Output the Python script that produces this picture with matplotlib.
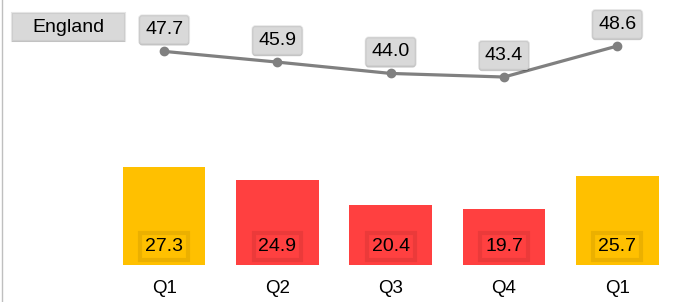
import matplotlib
matplotlib.use("Agg")
import matplotlib.pyplot as plt
import matplotlib.patheffects as pe
from matplotlib.patches import Rectangle
from matplotlib.lines import Line2D

plt.rcParams['font.family'] = ['Liberation Sans', 'DejaVu Sans']

# data
quarters = ['Q1', 'Q2', 'Q3', 'Q4', 'Q1']
bar_vals = [27.3, 24.9, 20.4, 19.7, 25.7]
line_vals = [47.7, 45.9, 44.0, 43.4, 48.6]
bar_cols = ['#FFC000', '#FF4040', '#FF4040', '#FF4040', '#FFC000']
series_name = 'England'

W, H = 679, 302
fig = plt.figure(figsize=(W / 100, H / 100), dpi=100)

# axes in pixel terms: bottom of bars at y=265, top at 0
ax = fig.add_axes([2 / W, (H - 265) / H, 677 / W, 265 / H])
ax2 = ax.twinx()

x = list(range(len(quarters)))
ax.bar(x, bar_vals, width=0.73, color=bar_cols, zorder=2)
ax.set_xlim(-1.431, 4.545)
ax.set_ylim(9.6, 57.5)
ax2.set_ylim(11.86, 56.32)

ax2.plot(x, line_vals, color='#808080', lw=2.3, marker='o', ms=6, zorder=3)

for a in (ax, ax2):
    for s in a.spines.values():
        s.set_visible(False)
    a.set_yticks([])
ax.set_xticks(x)
ax.set_xticklabels(quarters, fontsize=13.5)
ax.tick_params(axis='x', length=0, pad=11)

shadow = [pe.withSimplePatchShadow(offset=(0, -1), shadow_rgbFace='black', alpha=0.15), pe.Normal()]
fs = 14

# value labels on the line
for xi, v in zip(x, line_vals):
    t = ax2.annotate(f'{v:.1f}', (xi, v), xytext=(0, 15.5), textcoords='offset points',
                     ha='center', va='center', fontsize=fs, zorder=5,
                     bbox=dict(boxstyle='round,pad=0.3,rounding_size=0.15',
                               fc='#d9d9d9', ec=(0, 0, 0, 0.05), lw=1.5))
    t.get_bbox_patch().set_path_effects(shadow)

# value labels inside the bars
for xi, v, c in zip(x, bar_vals, bar_cols):
    ax.annotate(f'{v:.1f}', (xi, 0), xycoords=ax.get_xaxis_transform(),
                xytext=(0, 13.5), textcoords='offset points',
                ha='center', va='center', fontsize=fs, zorder=5,
                bbox=dict(boxstyle='square,pad=0.25', fc=c, ec=(0, 0, 0, 0.08), lw=3))

# legend box
leg = Rectangle((12 / W, 1 - 41 / H), 113 / W, 28 / H, transform=fig.transFigure,
                fc='#d9d9d9', ec=(0, 0, 0, 0.05), lw=1.5, zorder=4)
leg.set_path_effects(shadow)
fig.patches.append(leg)
fig.text(68.5 / W, 1 - 27 / H, series_name, ha='center', va='center', fontsize=fs, zorder=6)

# thin left border
fig.add_artist(Line2D([2 / W, 2 / W], [0, 1], color='#bfbfbf', lw=1, transform=fig.transFigure))

fig.savefig('out.png', dpi=100)
